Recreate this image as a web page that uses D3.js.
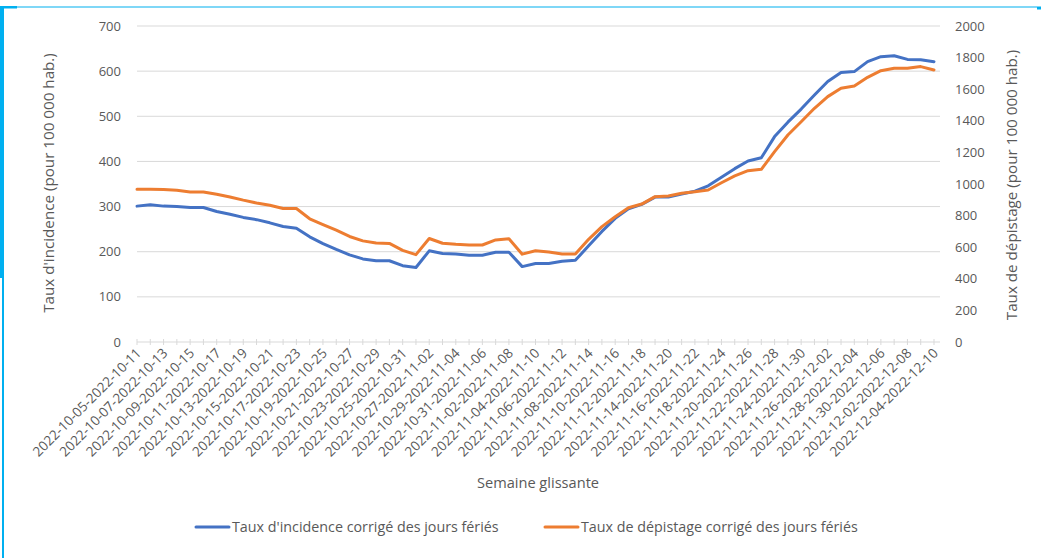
<!DOCTYPE html>
<html>
<head>
<meta charset="utf-8">
<script src="https://d3js.org/d3.v7.min.js"></script>
<style>
  body { margin: 0; background: #fff; }
  text { font-family: "Open Sans", sans-serif; fill: #595959; }
</style>
</head>
<body>
<div id="chart"></div>
<script>
// rolling 7-day windows (category labels)
var weeks = [
  "2022-10-05-2022-10-11", "2022-10-06-2022-10-12", "2022-10-07-2022-10-13", "2022-10-08-2022-10-14",
  "2022-10-09-2022-10-15", "2022-10-10-2022-10-16", "2022-10-11-2022-10-17", "2022-10-12-2022-10-18",
  "2022-10-13-2022-10-19", "2022-10-14-2022-10-20", "2022-10-15-2022-10-21", "2022-10-16-2022-10-22",
  "2022-10-17-2022-10-23", "2022-10-18-2022-10-24", "2022-10-19-2022-10-25", "2022-10-20-2022-10-26",
  "2022-10-21-2022-10-27", "2022-10-22-2022-10-28", "2022-10-23-2022-10-29", "2022-10-24-2022-10-30",
  "2022-10-25-2022-10-31", "2022-10-26-2022-11-01", "2022-10-27-2022-11-02", "2022-10-28-2022-11-03",
  "2022-10-29-2022-11-04", "2022-10-30-2022-11-05", "2022-10-31-2022-11-06", "2022-11-01-2022-11-07",
  "2022-11-02-2022-11-08", "2022-11-03-2022-11-09", "2022-11-04-2022-11-10", "2022-11-05-2022-11-11",
  "2022-11-06-2022-11-12", "2022-11-07-2022-11-13", "2022-11-08-2022-11-14", "2022-11-09-2022-11-15",
  "2022-11-10-2022-11-16", "2022-11-11-2022-11-17", "2022-11-12-2022-11-18", "2022-11-13-2022-11-19",
  "2022-11-14-2022-11-20", "2022-11-15-2022-11-21", "2022-11-16-2022-11-22", "2022-11-17-2022-11-23",
  "2022-11-18-2022-11-24", "2022-11-19-2022-11-25", "2022-11-20-2022-11-26", "2022-11-21-2022-11-27",
  "2022-11-22-2022-11-28", "2022-11-23-2022-11-29", "2022-11-24-2022-11-30", "2022-11-25-2022-12-01",
  "2022-11-26-2022-12-02", "2022-11-27-2022-12-03", "2022-11-28-2022-12-04", "2022-11-29-2022-12-05",
  "2022-11-30-2022-12-06", "2022-12-01-2022-12-07", "2022-12-02-2022-12-08", "2022-12-03-2022-12-09",
  "2022-12-04-2022-12-10"
];

// Taux d'incidence (left axis)
var incidence = [
  301, 304, 301, 300, 298, 298, 289, 283, 276, 271,
  264, 256, 252, 233, 218, 205, 193, 184, 180, 180,
  169, 165, 202, 196, 195, 192, 192, 199, 199, 167,
  174, 174, 179, 181, 213, 245, 274, 295, 305, 321,
  321, 328, 334, 346, 365, 384, 401, 408, 455, 487,
  516, 547, 577, 597, 599, 621, 632, 634, 626, 625,
  621
];

// Taux de dépistage (right axis)
var depistage = [
  966, 966, 965, 960, 950, 950, 935, 918, 898, 880,
  865, 845, 845, 780, 743, 708, 668, 640, 626, 624,
  580, 553, 655, 625, 618, 614, 614, 646, 654, 556,
  578, 570, 557, 557, 650, 730, 793, 850, 873, 920,
  924, 941, 951, 962, 1008, 1051, 1084, 1093, 1205, 1310,
  1394, 1479, 1553, 1606, 1620, 1675, 1717, 1732, 1732, 1743,
  1722
];

var leftTicks = [0, 100, 200, 300, 400, 500, 600, 700];
var rightTicks = [0, 200, 400, 600, 800, 1000, 1200, 1400, 1600, 1800, 2000];

var seriesNames = ["Taux d'incidence corrigé des jours fériés", "Taux de dépistage corrigé des jours fériés"];
var colors = ["#4472C4", "#ED7D31"];

var width = 1041, height = 558;
var plotLeft = 137, plotRight = 940, plotTop = 26, plotBottom = 342;

var svg = d3.select("#chart").append("svg")
  .attr("width", width)
  .attr("height", height);

svg.append("rect").attr("width", width).attr("height", height).attr("fill", "#fff");

// cyan frame pieces
svg.append("rect").attr("x", 0).attr("y", 6).attr("width", 4).attr("height", 272).attr("fill", "#00B0F0");
svg.append("rect").attr("x", 2).attr("y", 278).attr("width", 2).attr("height", 280).attr("fill", "#00B0F0");
svg.append("rect").attr("x", 0).attr("y", 6).attr("width", 17).attr("height", 2.5).attr("fill", "#00B0F0");
svg.append("rect").attr("x", 17).attr("y", 6.5).attr("width", 1020).attr("height", 1).attr("fill", "#00B0F0");
svg.append("rect").attr("x", 1037).attr("y", 6.5).attr("width", 4).attr("height", 3).attr("fill", "#00B0F0");

var x = d3.scalePoint().domain(weeks).range([plotLeft, 934]);
var yL = d3.scaleLinear().domain([0, 700]).range([plotBottom, plotTop]);
var yR = d3.scaleLinear().domain([0, 2000]).range([plotBottom, plotTop]);

// gridlines
svg.append("g").selectAll("line")
  .data(leftTicks.slice(1))
  .join("line")
  .attr("x1", plotLeft).attr("x2", plotRight)
  .attr("y1", d => yL(d)).attr("y2", d => yL(d))
  .attr("stroke", "#D9D9D9").attr("stroke-width", 1);

// x axis line and category ticks
svg.append("line")
  .attr("x1", plotLeft).attr("x2", plotRight)
  .attr("y1", plotBottom).attr("y2", plotBottom)
  .attr("stroke", "#D9D9D9");
svg.append("g").selectAll("line")
  .data(weeks)
  .join("line")
  .attr("x1", d => x(d)).attr("x2", d => x(d))
  .attr("y1", plotBottom - 3).attr("y2", plotBottom + 3)
  .attr("stroke", "#D9D9D9");

// left axis labels
svg.append("g").selectAll("text")
  .data(leftTicks)
  .join("text")
  .attr("x", 121).attr("y", d => yL(d) + 4.5)
  .attr("text-anchor", "end")
  .attr("font-size", 13)
  .text(d => d);

// right axis labels
svg.append("g").selectAll("text")
  .data(rightTicks)
  .join("text")
  .attr("x", 955).attr("y", d => yR(d) + 4.5)
  .attr("text-anchor", "start")
  .attr("font-size", 13)
  .text(d => d);

// x labels, every other category
svg.append("g").selectAll("text")
  .data(weeks.filter((d, i) => i % 2 === 0))
  .join("text")
  .attr("transform", d => "translate(" + (x(d) + 5) + "," + (plotBottom + 12) + ") rotate(-45)")
  .attr("text-anchor", "end")
  .attr("font-size", 13.6)
  .text(d => d);

// axis titles
svg.append("text")
  .attr("transform", "translate(54,183) rotate(-90)")
  .attr("text-anchor", "middle")
  .attr("font-size", 15.2)
  .text("Taux d'incidence  (pour 100 000 hab.)");
svg.append("text")
  .attr("transform", "translate(1017,185) rotate(-90)")
  .attr("text-anchor", "middle")
  .attr("font-size", 15.2)
  .text("Taux de dépistage  (pour 100 000 hab.)");
svg.append("text")
  .attr("x", 538).attr("y", 488)
  .attr("text-anchor", "middle")
  .attr("font-size", 14.6)
  .text("Semaine glissante");

// lines
var lineL = d3.line().x((d, i) => x(weeks[i])).y(d => yL(d));
var lineR = d3.line().x((d, i) => x(weeks[i])).y(d => yR(d));

svg.append("path").datum(incidence)
  .attr("d", lineL)
  .attr("fill", "none").attr("stroke", colors[0])
  .attr("stroke-width", 3).attr("stroke-linejoin", "round").attr("stroke-linecap", "round");
svg.append("path").datum(depistage)
  .attr("d", lineR)
  .attr("fill", "none").attr("stroke", colors[1])
  .attr("stroke-width", 3).attr("stroke-linejoin", "round").attr("stroke-linecap", "round");

// legend
var legendX = [196, 545];
var lg = svg.append("g").selectAll("g")
  .data(seriesNames)
  .join("g")
  .attr("transform", (d, i) => "translate(" + legendX[i] + ",527)");
lg.append("line")
  .attr("x1", 0).attr("x2", 33).attr("y1", 0).attr("y2", 0)
  .attr("stroke", (d, i) => colors[i]).attr("stroke-width", 3).attr("stroke-linecap", "round");
lg.append("text")
  .attr("x", 36).attr("y", 5)
  .attr("font-size", 14.3)
  .text(d => d);
</script>
</body>
</html>
